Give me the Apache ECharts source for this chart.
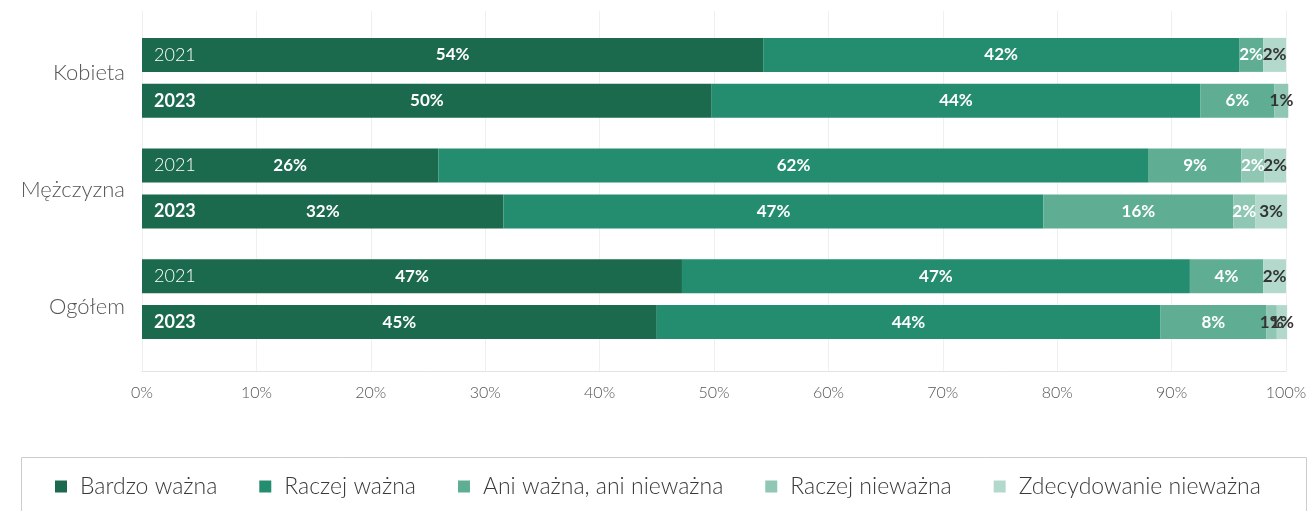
<!DOCTYPE html>
<html><head><meta charset="utf-8">
<script src="https://cdn.jsdelivr.net/npm/echarts@6/dist/echarts.min.js"></script>
<style>html,body{margin:0;padding:0;background:#fff}#c{width:1310px;height:511px}</style>
</head><body><div id="c"></div>
<script>
const categories = ['Kobieta', 'Mężczyzna', 'Ogółem'];
const years = ['2021', '2023'];
const seriesNames = ['Bardzo ważna', 'Raczej ważna', 'Ani ważna, ani nieważna', 'Raczej nieważna', 'Zdecydowanie nieważna'];
const colors = ['#1b6a4e', '#258d6f', '#5fae94', '#8fc7b3', '#b3d9cc'];
const xTicks = [0, 10, 20, 30, 40, 50, 60, 70, 80, 90, 100];

// bar lengths (% of respondents), rows: Kobieta, Mężczyzna, Ogółem
const bardzo2021 = [54.3, 25.9, 47.2];
const raczej2021 = [41.6, 62.1, 44.4];
const ani2021 = [2.1, 8.1, 6.4];
const raczejNie2021 = [0, 2.0, 0];
const zdec2021 = [2.0, 1.9, 2.0];

const bardzo2023 = [49.8, 31.6, 45.0];
const raczej2023 = [42.7, 47.2, 44.0];
const ani2023 = [6.5, 16.6, 9.3];
const raczejNie2023 = [1.2, 1.9, 0.9];
const zdec2023 = [0, 2.8, 0.9];

// printed data labels (%)
const bardzoLbl2021 = [54, 26, 47];
const raczejLbl2021 = [42, 62, 47];
const aniLbl2021 = [2, 9, 4];
const raczejNieLbl2021 = [null, 2, null];
const zdecLbl2021 = [2, 2, 2];

const bardzoLbl2023 = [50, 32, 45];
const raczejLbl2023 = [44, 47, 44];
const aniLbl2023 = [6, 16, 8];
const raczejNieLbl2023 = [1, 2, 1];
const zdecLbl2023 = [null, 3, 1];

const values = {
  '2021': [bardzo2021, raczej2021, ani2021, raczejNie2021, zdec2021],
  '2023': [bardzo2023, raczej2023, ani2023, raczejNie2023, zdec2023]
};
const labels = {
  '2021': [bardzoLbl2021, raczejLbl2021, aniLbl2021, raczejNieLbl2021, zdecLbl2021],
  '2023': [bardzoLbl2023, raczejLbl2023, aniLbl2023, raczejNieLbl2023, zdecLbl2023]
};

const FONT = 'Lato, "Open Sans", sans-serif';
const series = [];
years.forEach(function (yr) {
  // year caption drawn at the start of each bar
  series.push({
    type: 'bar', name: 'year' + yr, stack: yr, xAxisIndex: 0, yAxisIndex: 0,
    barWidth: 34, barGap: '35%', clip: false, silent: true,
    data: categories.map(function () { return 0; }),
    itemStyle: { color: 'rgba(0,0,0,0)' },
    label: {
      show: true, position: 'insideLeft', distance: 12,
      formatter: yr, color: '#fff', fontFamily: FONT,
      fontSize: 18, fontWeight: yr === '2023' ? 700 : 300
    },
    z: 5
  });
  seriesNames.forEach(function (nm, si) {
    const vals = values[yr][si];
    const lbls = labels[yr][si];
    series.push({
      type: 'bar', name: nm, stack: yr, xAxisIndex: 0, yAxisIndex: 0,
      barWidth: 34, barGap: '35%', clip: false,
      itemStyle: { color: colors[si] },
      data: vals.map(function (v, i) {
        const l = lbls[i];
        const dark = si === 4 || (si === 3 && l !== null && l <= 1);
        return {
          value: v,
          label: {
            show: l !== null && v > 0,
            formatter: l + '%',
            color: dark ? '#333' : '#fff'
          }
        };
      }),
      label: {
        position: 'inside', fontFamily: FONT, fontSize: 17, fontWeight: 700
      }
    });
  });
});

const chart = echarts.init(document.getElementById('c'));
chart.setOption({
  animation: false,
  textStyle: { fontFamily: FONT },
  grid: [
    { left: 142, right: 24, top: 22.5, height: 332, containLabel: false },
    { left: 142, right: 24, top: 11, height: 360, containLabel: false },
    { left: 142, right: 24, top: 14.5, height: 351, containLabel: false }
  ],
  xAxis: [
    { gridIndex: 0, type: 'value', min: 0, max: 100, interval: 10, show: false },
    {
      gridIndex: 1, type: 'value', min: xTicks[0], max: xTicks[xTicks.length - 1], interval: 10,
      axisLine: { show: true, lineStyle: { color: '#e3e3e3', width: 1 } },
      axisTick: { show: false },
      splitLine: { show: true, lineStyle: { color: '#f0f0f0', width: 1 } },
      axisLabel: {
        formatter: '{value}%', color: '#555', fontSize: 16, fontWeight: 300,
        fontFamily: FONT, margin: 14
      }
    },
    { gridIndex: 2, type: 'value', min: 0, max: 100, show: false }
  ],
  yAxis: [
    { gridIndex: 0, type: 'category', data: categories, inverse: true, show: false },
    { gridIndex: 1, type: 'value', show: false, min: 0, max: 1 },
    {
      gridIndex: 2, type: 'category', data: categories, inverse: true,
      axisLine: { show: false }, axisTick: { show: false }, splitLine: { show: false },
      axisLabel: { color: '#555', fontSize: 22, fontWeight: 300, fontFamily: FONT, margin: 17 }
    }
  ],
  legend: {
    data: seriesNames, left: 55, top: 475, itemGap: 42, padding: 0,
    icon: 'rect', itemWidth: 12, itemHeight: 12,
    textStyle: { color: '#3a3a3a', fontSize: 23, fontWeight: 300, fontFamily: FONT, padding: [0, 0, 0, 8] },
    selectedMode: false
  },
  graphic: [{
    type: 'rect', left: 19, top: 455, z: -1, silent: true,
    shape: { width: 1285, height: 80 },
    style: { fill: 'none', stroke: '#cccccc', lineWidth: 1 }
  }],
  series: series
});
</script></body></html>
